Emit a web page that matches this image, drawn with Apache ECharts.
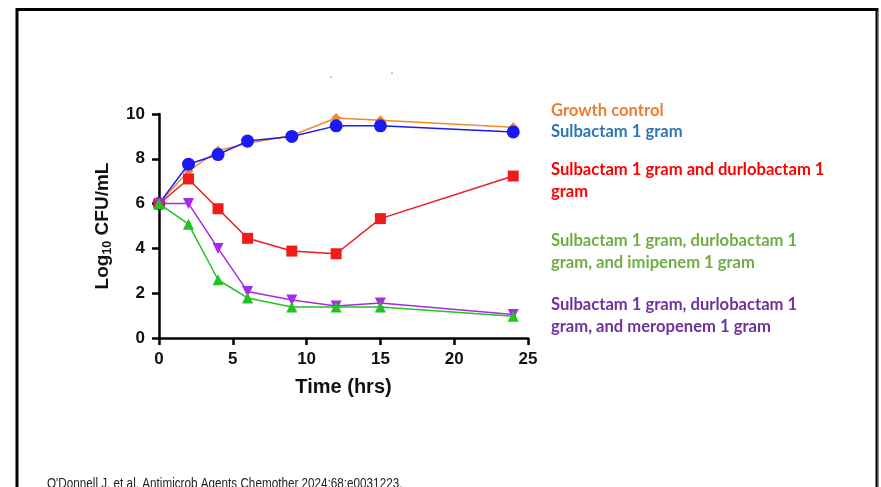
<!DOCTYPE html>
<html>
<head>
<meta charset="utf-8">
<script src="https://cdn.jsdelivr.net/npm/echarts@6/dist/echarts.min.js"></script>
<style>html,body{margin:0;padding:0;background:#fff}#c{width:881px;height:487px}</style>
</head>
<body>
<div id="c"></div>
<script>
const times = [0, 2, 4, 6, 9, 12, 15, 24];
const growthControl = [6.0, 7.45, 8.37, 8.68, 9.04, 9.82, 9.72, 9.41];
const sulbactam = [6.0, 7.76, 8.19, 8.79, 9.0, 9.47, 9.47, 9.2];
const sulDur = [5.98, 7.1, 5.77, 4.45, 3.88, 3.76, 5.33, 7.23];
const sulDurImi = [6.0, 5.08, 2.6, 1.79, 1.38, 1.38, 1.38, 0.97];
const sulDurMero = [6.0, 6.0, 4.0, 2.08, 1.7, 1.43, 1.56, 1.05];
const seriesNames = ['Growth control', 'Sulbactam 1 gram', 'Sulbactam 1 gram and durlobactam 1 gram',
  'Sulbactam 1 gram, durlobactam 1 gram, and imipenem 1 gram', 'Sulbactam 1 gram, durlobactam 1 gram, and meropenem 1 gram'];
const legendLines = [['Growth control'], ['Sulbactam 1 gram'], ['Sulbactam 1 gram and durlobactam 1', 'gram'],
  ['Sulbactam 1 gram, durlobactam 1', 'gram, and imipenem 1 gram'], ['Sulbactam 1 gram, durlobactam 1', 'gram, and meropenem 1 gram']];
const xTicks = [0, 5, 10, 15, 20, 25];
const yTicks = [0, 2, 4, 6, 8, 10];
const citation = "O'Donnell J. et al. Antimicrob Agents Chemother 2024;68:e0031223.";

const lineColors = ['#F5892A', '#1A1AF5', '#F21B1B', '#22C222', '#A62BE6'];
const textColors = ['#ED7D31', '#2E75B6', '#FF0000', '#70AD47', '#7030A0'];
const symbols = ['diamond', 'circle', 'rect', 'triangle', 'triangle'];
const symSizes = [10, 13, 11, 11, 11];
const allData = [growthControl, sulbactam, sulDur, sulDurImi, sulDurMero];
const legendY = [111, 132, 170, 241, 305];

const chart = echarts.init(document.getElementById('c'), null, {renderer: 'canvas'});
const series = allData.map((d, i) => ({
  name: seriesNames[i],
  type: 'line',
  data: times.map((t, j) => [t, d[j]]),
  symbol: symbols[i],
  symbolSize: symSizes[i],
  symbolRotate: i === 4 ? 180 : 0,
  z: [1, 2, 3, 4, 3][i],
  lineStyle: {color: lineColors[i], width: 1.5},
  itemStyle: {color: lineColors[i]},
  animation: false
}));

const graphics = [
  {type: 'rect', shape: {x: 17, y: 9.5, width: 860, height: 490}, style: {fill: 'none', stroke: '#000', lineWidth: 3}},
  {type: 'line', shape: {x1: 878, y1: 11, x2: 878, y2: 487}, style: {stroke: '#999', lineWidth: 1}},
  {type: 'circle', shape: {cx: 331, cy: 77, r: 0.8}, style: {fill: '#888'}},
  {type: 'circle', shape: {cx: 392, cy: 73, r: 0.8}, style: {fill: '#888'}},
  {type: 'text', x: 47, y: 476, scaleX: 0.78, style: {text: citation, font: '15px "Liberation Sans"', fill: '#222'}}
];
legendLines.forEach((lines, i) => {
  lines.forEach((ln, k) => {
    graphics.push({type: 'text', x: 551, y: legendY[i] + k * 22, style: {text: ln, font: 'bold 16.6px Lato', fill: textColors[i], verticalAlign: 'middle'}});
  });
});

chart.setOption({
  animation: false,
  grid: {left: 159, right: 353, top: 114, bottom: 149},
  xAxis: {
    type: 'value', min: 0, max: 25, interval: 5,
    name: 'Time (hrs)', nameLocation: 'middle', nameGap: 39,
    nameTextStyle: {fontFamily: 'Liberation Sans', fontWeight: 'bold', fontSize: 20, color: '#111'},
    axisLine: {lineStyle: {color: '#000', width: 2.5}},
    axisTick: {show: true, length: 7, lineStyle: {color: '#000', width: 2.5}},
    axisLabel: {fontFamily: 'Liberation Sans', fontWeight: 'bold', fontSize: 17, color: '#111', margin: 13,
      formatter: v => xTicks.includes(v) ? String(v) : ''},
    splitLine: {show: false}
  },
  yAxis: {
    type: 'value', min: 0, max: 10, interval: 2,
    name: '{a|Log}{s|10}{a| CFU/mL}', nameLocation: 'middle', nameGap: 44, nameRotate: 90,
    nameTextStyle: {rich: {
      a: {fontFamily: 'Liberation Sans', fontWeight: 'bold', fontSize: 19, color: '#111', lineHeight: 24},
      s: {fontFamily: 'Liberation Sans', fontWeight: 'bold', fontSize: 12.5, color: '#111', lineHeight: 24, padding: [9, 0, 0, 0]}
    }},
    axisLine: {show: true, lineStyle: {color: '#000', width: 2.5}},
    axisTick: {show: true, length: 7, lineStyle: {color: '#000', width: 2.5}},
    axisLabel: {fontFamily: 'Liberation Sans', fontWeight: 'bold', fontSize: 17, color: '#111', margin: 14,
      formatter: v => yTicks.includes(v) ? String(v) : ''},
    splitLine: {show: false}
  },
  series: series,
  graphic: graphics
});
</script>
</body>
</html>
